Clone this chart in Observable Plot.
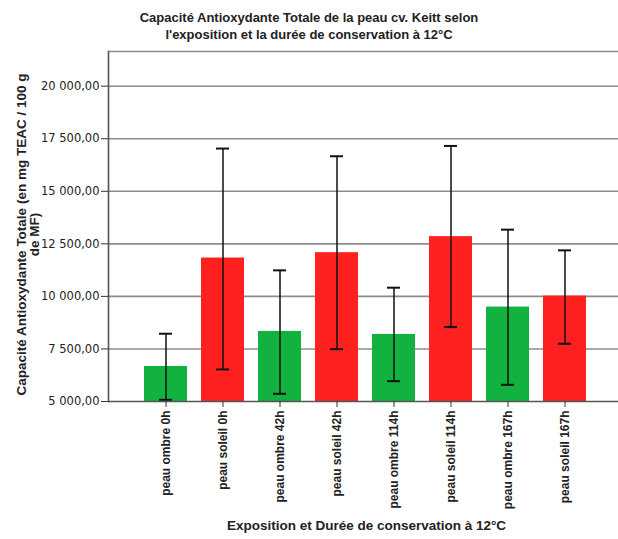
<!DOCTYPE html>
<html><head><meta charset="utf-8">
<script src="https://cdn.jsdelivr.net/npm/d3@7"></script>
<script src="https://cdn.jsdelivr.net/npm/@observablehq/plot@0.6"></script>
<style>
body{margin:0;background:#fff;}
#title{width:618px;text-align:center;font:bold 13px "Liberation Sans",Arial,sans-serif;line-height:16.5px;padding-top:10px;height:32px;color:#222;}
</style></head><body>
<div id="title">Capacité Antioxydante Totale de la peau cv. Keitt selon<br>l'exposition et la durée de conservation à 12°C</div>
<div id="chart"></div>
<script>
const categories = ["peau ombre 0h","peau soleil 0h","peau ombre 42h","peau soleil 42h","peau ombre 114h","peau soleil 114h","peau ombre 167h","peau soleil 167h"];
const exposition = ["ombre","soleil","ombre","soleil","ombre","soleil","ombre","soleil"];
const means   = [6667, 11825, 8333, 12080, 8190, 12843, 9492, 10016];
const errLow  = [5080, 6524, 5365, 7490, 5968, 8540, 5794, 7746];
const errHigh = [8224, 17033, 11238, 16667, 10414, 17157, 13175, 12190];
const yTicks  = [5000, 7500, 10000, 12500, 15000, 17500, 20000];
const yDomain = [5000, 21650];
const yLabel = "Capacité Antioxydante Totale (en mg TEAC / 100 g\nde MF)";
const xLabel = "Exposition et Durée de conservation à 12°C";

const data = categories.map((c, i) => ({cat: c, expo: exposition[i], mean: means[i], low: errLow[i], high: errHigh[i]}));
const loc = d3.formatLocale({decimal: ",", thousands: "\u00a0", grouping: [3], currency: ["", "€"]});
const fmt = loc.format(",.2f");

const chart = Plot.plot({
  width: 618, height: 497,
  marginTop: 9, marginBottom: 138, marginLeft: 108, marginRight: 0,
  style: {fontFamily: "'Liberation Sans', Arial, sans-serif", color: "#222", background: "#fff"},
  x: {domain: categories, range: [134, 596.5], paddingInner: 0.24, paddingOuter: 0.12},
  y: {domain: yDomain},
  color: {domain: ["ombre", "soleil"], range: ["#12b240", "#ff2020"]},
  marks: [
    Plot.ruleY(yTicks.slice(1), {stroke: "#8c8c8c", strokeWidth: 1.6}),
    Plot.ruleY([yDomain[1]], {stroke: "#8c8c8c", strokeWidth: 1.6}),
    Plot.barY(data, {x: "cat", y1: yDomain[0], y2: "mean", fill: "expo"}),
    Plot.ruleX(data, {x: "cat", y1: "low", y2: "high", stroke: "#111", strokeWidth: 1.5}),
    Plot.tickY(data, {x: "cat", y: "low", insetLeft: 15, insetRight: 15, stroke: "#111", strokeWidth: 2}),
    Plot.tickY(data, {x: "cat", y: "high", insetLeft: 15, insetRight: 15, stroke: "#111", strokeWidth: 2}),
    Plot.ruleY([yDomain[0]], {stroke: "#555", strokeWidth: 1.6}),
    Plot.frame({anchor: "left", stroke: "#555", strokeWidth: 1.6}),
    Plot.axisY({ticks: yTicks, tickFormat: fmt, tickSize: 7, tickPadding: 2, fontFamily: "'DejaVu Sans', sans-serif", fontSize: 11.5, label: null, stroke: "#333"}),
    Plot.axisX({tickRotate: -90, tickSize: 6, tickPadding: 3, label: null, fontWeight: "bold", fontSize: 12, stroke: "#333"}),
    Plot.text([yLabel], {frameAnchor: "left", rotate: -90, dx: -80.5, dy: 8, textAnchor: "middle", lineAnchor: "middle", fontWeight: "bold", fontSize: 13.5, lineHeight: 1.0, fill: "#222"}),
    Plot.text([xLabel], {frameAnchor: "bottom", dx: 3, dy: 124, textAnchor: "middle", lineAnchor: "middle", fontWeight: "bold", fontSize: 13.5, fill: "#222"})
  ]
});
document.getElementById("chart").appendChild(chart);
</script>
</body></html>
